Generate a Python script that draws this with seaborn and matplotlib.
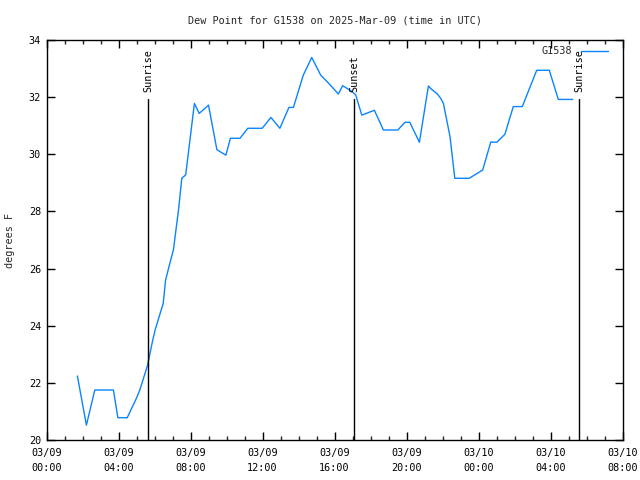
import matplotlib
matplotlib.use("Agg")
import matplotlib.pyplot as plt
import matplotlib.dates as mdates
import seaborn as sns
import pandas as pd

times = ["2025-03-09 01:43", "2025-03-09 02:13", "2025-03-09 02:41", "2025-03-09 03:43",
         "2025-03-09 03:58", "2025-03-09 04:29", "2025-03-09 04:58", "2025-03-09 05:11",
         "2025-03-09 05:37", "2025-03-09 05:53", "2025-03-09 06:02", "2025-03-09 06:29",
         "2025-03-09 06:37", "2025-03-09 06:54", "2025-03-09 07:03", "2025-03-09 07:20",
         "2025-03-09 07:31", "2025-03-09 07:44", "2025-03-09 08:13", "2025-03-09 08:29",
         "2025-03-09 09:00", "2025-03-09 09:28", "2025-03-09 09:58", "2025-03-09 10:13",
         "2025-03-09 10:45", "2025-03-09 11:11", "2025-03-09 11:59", "2025-03-09 12:28",
         "2025-03-09 12:58", "2025-03-09 13:28", "2025-03-09 13:43", "2025-03-09 14:16",
         "2025-03-09 14:44", "2025-03-09 15:14", "2025-03-09 15:41", "2025-03-09 16:13",
         "2025-03-09 16:27", "2025-03-09 16:57", "2025-03-09 17:11", "2025-03-09 17:31",
         "2025-03-09 18:13", "2025-03-09 18:43", "2025-03-09 19:31", "2025-03-09 19:55",
         "2025-03-09 20:11", "2025-03-09 20:43", "2025-03-09 21:13", "2025-03-09 21:24",
         "2025-03-09 21:41", "2025-03-09 21:54", "2025-03-09 22:03", "2025-03-09 22:25",
         "2025-03-09 22:41", "2025-03-09 23:29", "2025-03-10 00:14", "2025-03-10 00:41",
         "2025-03-10 01:01", "2025-03-10 01:28", "2025-03-10 01:56", "2025-03-10 02:26",
         "2025-03-10 03:14", "2025-03-10 03:56", "2025-03-10 04:26", "2025-03-10 05:14"]
dewpoint = [22.24, 20.52, 21.75, 21.75,
            20.78, 20.78, 21.42, 21.75,
            22.62, 23.44, 23.85, 24.78,
            25.60, 26.30, 26.65, 28.05,
            29.16, 29.28, 31.78, 31.43,
            31.72, 30.16, 29.97, 30.56,
            30.56, 30.91, 30.91, 31.29,
            30.91, 31.64, 31.64, 32.77,
            33.39, 32.77, 32.48, 32.11,
            32.40, 32.21, 32.07, 31.37,
            31.54, 30.85, 30.85, 31.12,
            31.12, 30.42, 32.39, 32.27,
            32.13, 31.96, 31.78, 30.62,
            29.16, 29.16, 29.45, 30.43,
            30.42, 30.70, 31.67, 31.67,
            32.94, 32.94, 31.92, 31.92]
station = "G1538"

event_times = ["2025-03-09 05:39", "2025-03-09 17:05", "2025-03-10 05:35"]
event_labels = ["Sunrise", "Sunset", "Sunrise"]
event_top = 31.93

title = "Dew Point for G1538 on 2025-Mar-09 (time in UTC)"
ylabel = "degrees F"
x_start, x_end = "2025-03-09 00:00", "2025-03-10 08:00"
y_min, y_max = 20, 34

df = pd.DataFrame({"time": pd.to_datetime(times), "dewpoint": dewpoint, "station": station})

sns.set_style("white")
plt.rcParams["font.family"] = ["DejaVu Sans Mono"]
FS = 7.3

fig = plt.figure(figsize=(6.4, 4.8), dpi=100)
ax = fig.add_axes([46.5 / 640, 40 / 480, 576 / 640, 400 / 480])

sns.lineplot(data=df, x="time", y="dewpoint", hue="station", palette=["#0a84ff"],
             linewidth=1.0, ax=ax, legend=True)

for t, lab in zip(event_times, event_labels):
    tt = pd.Timestamp(t)
    ax.plot([tt, tt], [y_min, event_top], color="black", linewidth=1.0)
    ax.text(tt, event_top + 0.25, lab, rotation=90, ha="center", va="bottom",
            fontsize=FS, color="black")

ax.set_xlim(pd.Timestamp(x_start), pd.Timestamp(x_end))
ax.set_ylim(y_min, y_max)
ax.set_yticks(range(y_min, y_max + 1, 2))
ax.xaxis.set_major_locator(mdates.HourLocator(byhour=range(0, 24, 4)))
ax.xaxis.set_minor_locator(mdates.HourLocator())
ax.xaxis.set_major_formatter(mdates.DateFormatter("%m/%d\n%H:%M"))

for s in ax.spines.values():
    s.set_visible(True)
    s.set_color("black")
    s.set_linewidth(1.0)

ax.tick_params(axis="both", which="major", direction="in", length=6, width=1,
               top=True, right=True, bottom=True, left=True, labelsize=FS, pad=4,
               colors="black")
ax.tick_params(axis="x", which="minor", direction="in", length=3, width=1,
               top=True, bottom=True)
ax.tick_params(axis="x", which="major", pad=6)
for lbl in ax.get_xticklabels():
    lbl.set_linespacing(1.6)

ax.set_title(title, fontsize=FS, pad=12)
ax.set_xlabel("")
ax.set_ylabel(ylabel, fontsize=FS)
ax.yaxis.set_label_coords(-0.054, 0.5)

leg = ax.legend(loc="upper right", frameon=False, fontsize=FS, markerfirst=False,
                handlelength=2.6, borderaxespad=0.2, handletextpad=0.95,
                bbox_to_anchor=(0.985, 1.0))
for line in leg.get_lines():
    line.set_linewidth(1.0)

ax.grid(False)
fig.savefig("out.png", dpi=100)
